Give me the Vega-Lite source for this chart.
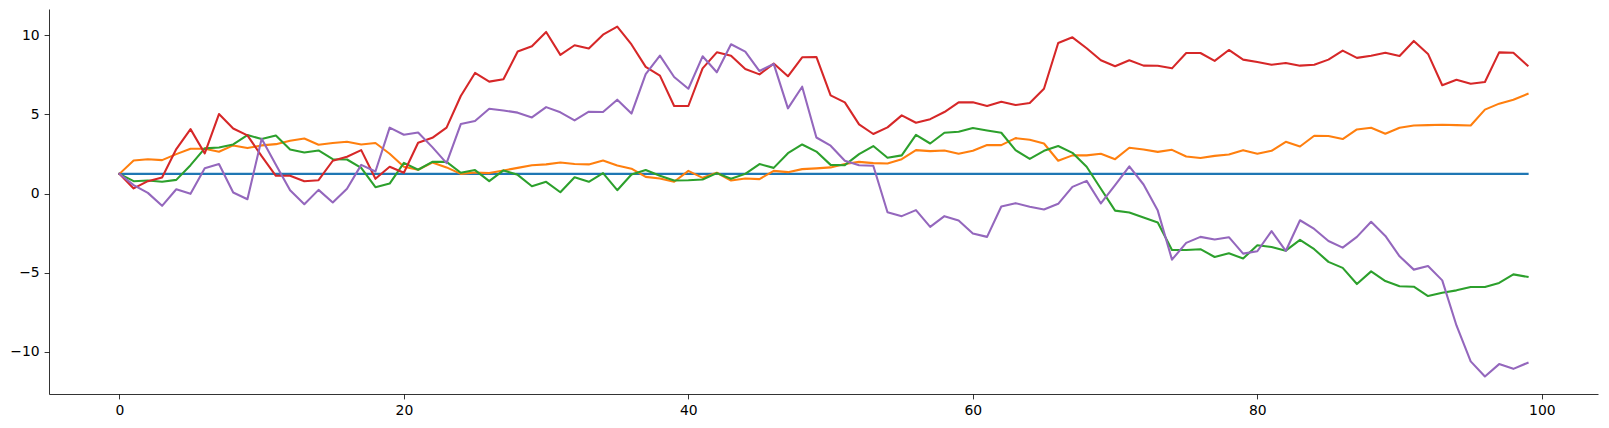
{
"$schema": "https://vega.github.io/schema/vega-lite/v6.json",
"autosize": "none",
"width": 1549,
"height": 385,
"padding": {"left": 49, "top": 9, "right": 11, "bottom": 34},
"background": "white",
"config": {"view": {"stroke": null}},
"data": {"values": [
{"x":0,"s":"C0","y":1.24},{"x":1,"s":"C0","y":1.24},{"x":2,"s":"C0","y":1.24},{"x":3,"s":"C0","y":1.24},{"x":4,"s":"C0","y":1.24},{"x":5,"s":"C0","y":1.24},{"x":6,"s":"C0","y":1.24},{"x":7,"s":"C0","y":1.24},{"x":8,"s":"C0","y":1.24},{"x":9,"s":"C0","y":1.24},
{"x":10,"s":"C0","y":1.24},{"x":11,"s":"C0","y":1.24},{"x":12,"s":"C0","y":1.24},{"x":13,"s":"C0","y":1.24},{"x":14,"s":"C0","y":1.24},{"x":15,"s":"C0","y":1.24},{"x":16,"s":"C0","y":1.24},{"x":17,"s":"C0","y":1.24},{"x":18,"s":"C0","y":1.24},{"x":19,"s":"C0","y":1.24},
{"x":20,"s":"C0","y":1.24},{"x":21,"s":"C0","y":1.24},{"x":22,"s":"C0","y":1.24},{"x":23,"s":"C0","y":1.24},{"x":24,"s":"C0","y":1.24},{"x":25,"s":"C0","y":1.24},{"x":26,"s":"C0","y":1.24},{"x":27,"s":"C0","y":1.24},{"x":28,"s":"C0","y":1.24},{"x":29,"s":"C0","y":1.24},
{"x":30,"s":"C0","y":1.24},{"x":31,"s":"C0","y":1.24},{"x":32,"s":"C0","y":1.24},{"x":33,"s":"C0","y":1.24},{"x":34,"s":"C0","y":1.24},{"x":35,"s":"C0","y":1.24},{"x":36,"s":"C0","y":1.24},{"x":37,"s":"C0","y":1.24},{"x":38,"s":"C0","y":1.24},{"x":39,"s":"C0","y":1.24},
{"x":40,"s":"C0","y":1.24},{"x":41,"s":"C0","y":1.24},{"x":42,"s":"C0","y":1.24},{"x":43,"s":"C0","y":1.24},{"x":44,"s":"C0","y":1.24},{"x":45,"s":"C0","y":1.24},{"x":46,"s":"C0","y":1.24},{"x":47,"s":"C0","y":1.24},{"x":48,"s":"C0","y":1.24},{"x":49,"s":"C0","y":1.24},
{"x":50,"s":"C0","y":1.24},{"x":51,"s":"C0","y":1.24},{"x":52,"s":"C0","y":1.24},{"x":53,"s":"C0","y":1.24},{"x":54,"s":"C0","y":1.24},{"x":55,"s":"C0","y":1.24},{"x":56,"s":"C0","y":1.24},{"x":57,"s":"C0","y":1.24},{"x":58,"s":"C0","y":1.24},{"x":59,"s":"C0","y":1.24},
{"x":60,"s":"C0","y":1.24},{"x":61,"s":"C0","y":1.24},{"x":62,"s":"C0","y":1.24},{"x":63,"s":"C0","y":1.24},{"x":64,"s":"C0","y":1.24},{"x":65,"s":"C0","y":1.24},{"x":66,"s":"C0","y":1.24},{"x":67,"s":"C0","y":1.24},{"x":68,"s":"C0","y":1.24},{"x":69,"s":"C0","y":1.24},
{"x":70,"s":"C0","y":1.24},{"x":71,"s":"C0","y":1.24},{"x":72,"s":"C0","y":1.24},{"x":73,"s":"C0","y":1.24},{"x":74,"s":"C0","y":1.24},{"x":75,"s":"C0","y":1.24},{"x":76,"s":"C0","y":1.24},{"x":77,"s":"C0","y":1.24},{"x":78,"s":"C0","y":1.24},{"x":79,"s":"C0","y":1.24},
{"x":80,"s":"C0","y":1.24},{"x":81,"s":"C0","y":1.24},{"x":82,"s":"C0","y":1.24},{"x":83,"s":"C0","y":1.24},{"x":84,"s":"C0","y":1.24},{"x":85,"s":"C0","y":1.24},{"x":86,"s":"C0","y":1.24},{"x":87,"s":"C0","y":1.24},{"x":88,"s":"C0","y":1.24},{"x":89,"s":"C0","y":1.24},
{"x":90,"s":"C0","y":1.24},{"x":91,"s":"C0","y":1.24},{"x":92,"s":"C0","y":1.24},{"x":93,"s":"C0","y":1.24},{"x":94,"s":"C0","y":1.24},{"x":95,"s":"C0","y":1.24},{"x":96,"s":"C0","y":1.24},{"x":97,"s":"C0","y":1.24},{"x":98,"s":"C0","y":1.24},{"x":99,"s":"C0","y":1.24},

{"x":0,"s":"C1","y":1.24},{"x":1,"s":"C1","y":2.09},{"x":2,"s":"C1","y":2.17},{"x":3,"s":"C1","y":2.11},{"x":4,"s":"C1","y":2.49},{"x":5,"s":"C1","y":2.83},{"x":6,"s":"C1","y":2.83},{"x":7,"s":"C1","y":2.64},{"x":8,"s":"C1","y":3.04},{"x":9,"s":"C1","y":2.87},
{"x":10,"s":"C1","y":3.04},{"x":11,"s":"C1","y":3.12},{"x":12,"s":"C1","y":3.34},{"x":13,"s":"C1","y":3.48},{"x":14,"s":"C1","y":3.08},{"x":15,"s":"C1","y":3.19},{"x":16,"s":"C1","y":3.27},{"x":17,"s":"C1","y":3.10},{"x":18,"s":"C1","y":3.19},{"x":19,"s":"C1","y":2.51},
{"x":20,"s":"C1","y":1.69},{"x":21,"s":"C1","y":1.50},{"x":22,"s":"C1","y":1.96},{"x":23,"s":"C1","y":1.65},{"x":24,"s":"C1","y":1.24},{"x":25,"s":"C1","y":1.33},{"x":26,"s":"C1","y":1.29},{"x":27,"s":"C1","y":1.46},{"x":28,"s":"C1","y":1.62},{"x":29,"s":"C1","y":1.79},
{"x":30,"s":"C1","y":1.84},{"x":31,"s":"C1","y":1.96},{"x":32,"s":"C1","y":1.86},{"x":33,"s":"C1","y":1.84},{"x":34,"s":"C1","y":2.09},{"x":35,"s":"C1","y":1.77},{"x":36,"s":"C1","y":1.57},{"x":37,"s":"C1","y":1.05},{"x":38,"s":"C1","y":0.95},{"x":39,"s":"C1","y":0.74},
{"x":40,"s":"C1","y":1.43},{"x":41,"s":"C1","y":0.99},{"x":42,"s":"C1","y":1.31},{"x":43,"s":"C1","y":0.82},{"x":44,"s":"C1","y":0.95},{"x":45,"s":"C1","y":0.91},{"x":46,"s":"C1","y":1.43},{"x":47,"s":"C1","y":1.35},{"x":48,"s":"C1","y":1.54},{"x":49,"s":"C1","y":1.59},
{"x":50,"s":"C1","y":1.65},{"x":51,"s":"C1","y":1.86},{"x":52,"s":"C1","y":2.00},{"x":53,"s":"C1","y":1.92},{"x":54,"s":"C1","y":1.90},{"x":55,"s":"C1","y":2.17},{"x":56,"s":"C1","y":2.74},{"x":57,"s":"C1","y":2.68},{"x":58,"s":"C1","y":2.72},{"x":59,"s":"C1","y":2.51},
{"x":60,"s":"C1","y":2.70},{"x":61,"s":"C1","y":3.07},{"x":62,"s":"C1","y":3.06},{"x":63,"s":"C1","y":3.50},{"x":64,"s":"C1","y":3.40},{"x":65,"s":"C1","y":3.16},{"x":66,"s":"C1","y":2.07},{"x":67,"s":"C1","y":2.41},{"x":68,"s":"C1","y":2.41},{"x":69,"s":"C1","y":2.51},
{"x":70,"s":"C1","y":2.17},{"x":71,"s":"C1","y":2.89},{"x":72,"s":"C1","y":2.78},{"x":73,"s":"C1","y":2.63},{"x":74,"s":"C1","y":2.76},{"x":75,"s":"C1","y":2.34},{"x":76,"s":"C1","y":2.24},{"x":77,"s":"C1","y":2.38},{"x":78,"s":"C1","y":2.47},{"x":79,"s":"C1","y":2.74},
{"x":80,"s":"C1","y":2.51},{"x":81,"s":"C1","y":2.70},{"x":82,"s":"C1","y":3.27},{"x":83,"s":"C1","y":2.97},{"x":84,"s":"C1","y":3.65},{"x":85,"s":"C1","y":3.63},{"x":86,"s":"C1","y":3.44},{"x":87,"s":"C1","y":4.05},{"x":88,"s":"C1","y":4.16},{"x":89,"s":"C1","y":3.78},
{"x":90,"s":"C1","y":4.16},{"x":91,"s":"C1","y":4.30},{"x":92,"s":"C1","y":4.32},{"x":93,"s":"C1","y":4.35},{"x":94,"s":"C1","y":4.32},{"x":95,"s":"C1","y":4.30},{"x":96,"s":"C1","y":5.30},{"x":97,"s":"C1","y":5.68},{"x":98,"s":"C1","y":5.93},{"x":99,"s":"C1","y":6.29},

{"x":0,"s":"C2","y":1.24},{"x":1,"s":"C2","y":0.78},{"x":2,"s":"C2","y":0.82},{"x":3,"s":"C2","y":0.74},{"x":4,"s":"C2","y":0.86},{"x":5,"s":"C2","y":1.79},{"x":6,"s":"C2","y":2.85},{"x":7,"s":"C2","y":2.91},{"x":8,"s":"C2","y":3.10},{"x":9,"s":"C2","y":3.69},
{"x":10,"s":"C2","y":3.44},{"x":11,"s":"C2","y":3.67},{"x":12,"s":"C2","y":2.78},{"x":13,"s":"C2","y":2.59},{"x":14,"s":"C2","y":2.72},{"x":15,"s":"C2","y":2.17},{"x":16,"s":"C2","y":2.15},{"x":17,"s":"C2","y":1.62},{"x":18,"s":"C2","y":0.40},{"x":19,"s":"C2","y":0.63},
{"x":20,"s":"C2","y":1.94},{"x":21,"s":"C2","y":1.50},{"x":22,"s":"C2","y":2.00},{"x":23,"s":"C2","y":2.00},{"x":24,"s":"C2","y":1.31},{"x":25,"s":"C2","y":1.48},{"x":26,"s":"C2","y":0.78},{"x":27,"s":"C2","y":1.46},{"x":28,"s":"C2","y":1.18},{"x":29,"s":"C2","y":0.46},
{"x":30,"s":"C2","y":0.74},{"x":31,"s":"C2","y":0.08},{"x":32,"s":"C2","y":1.03},{"x":33,"s":"C2","y":0.74},{"x":34,"s":"C2","y":1.29},{"x":35,"s":"C2","y":0.21},{"x":36,"s":"C2","y":1.20},{"x":37,"s":"C2","y":1.48},{"x":38,"s":"C2","y":1.12},{"x":39,"s":"C2","y":0.82},
{"x":40,"s":"C2","y":0.84},{"x":41,"s":"C2","y":0.89},{"x":42,"s":"C2","y":1.29},{"x":43,"s":"C2","y":0.93},{"x":44,"s":"C2","y":1.24},{"x":45,"s":"C2","y":1.86},{"x":46,"s":"C2","y":1.62},{"x":47,"s":"C2","y":2.55},{"x":48,"s":"C2","y":3.10},{"x":49,"s":"C2","y":2.65},
{"x":50,"s":"C2","y":1.81},{"x":51,"s":"C2","y":1.79},{"x":52,"s":"C2","y":2.49},{"x":53,"s":"C2","y":3.00},{"x":54,"s":"C2","y":2.26},{"x":55,"s":"C2","y":2.41},{"x":56,"s":"C2","y":3.71},{"x":57,"s":"C2","y":3.16},{"x":58,"s":"C2","y":3.84},{"x":59,"s":"C2","y":3.90},
{"x":60,"s":"C2","y":4.14},{"x":61,"s":"C2","y":3.98},{"x":62,"s":"C2","y":3.84},{"x":63,"s":"C2","y":2.74},{"x":64,"s":"C2","y":2.19},{"x":65,"s":"C2","y":2.70},{"x":66,"s":"C2","y":3.00},{"x":67,"s":"C2","y":2.57},{"x":68,"s":"C2","y":1.69},{"x":69,"s":"C2","y":0.30},
{"x":70,"s":"C2","y":-1.08},{"x":71,"s":"C2","y":-1.20},{"x":72,"s":"C2","y":-1.52},{"x":73,"s":"C2","y":-1.83},{"x":74,"s":"C2","y":-3.57},{"x":75,"s":"C2","y":-3.57},{"x":76,"s":"C2","y":-3.52},{"x":77,"s":"C2","y":-4.01},{"x":78,"s":"C2","y":-3.78},{"x":79,"s":"C2","y":-4.11},
{"x":80,"s":"C2","y":-3.27},{"x":81,"s":"C2","y":-3.38},{"x":82,"s":"C2","y":-3.61},{"x":83,"s":"C2","y":-2.93},{"x":84,"s":"C2","y":-3.52},{"x":85,"s":"C2","y":-4.32},{"x":86,"s":"C2","y":-4.70},{"x":87,"s":"C2","y":-5.72},{"x":88,"s":"C2","y":-4.92},{"x":89,"s":"C2","y":-5.53},
{"x":90,"s":"C2","y":-5.86},{"x":91,"s":"C2","y":-5.89},{"x":92,"s":"C2","y":-6.48},{"x":93,"s":"C2","y":-6.27},{"x":94,"s":"C2","y":-6.12},{"x":95,"s":"C2","y":-5.91},{"x":96,"s":"C2","y":-5.91},{"x":97,"s":"C2","y":-5.65},{"x":98,"s":"C2","y":-5.11},{"x":99,"s":"C2","y":-5.27},

{"x":0,"s":"C3","y":1.24},{"x":1,"s":"C3","y":0.32},{"x":2,"s":"C3","y":0.78},{"x":3,"s":"C3","y":1.01},{"x":4,"s":"C3","y":2.81},{"x":5,"s":"C3","y":4.07},{"x":6,"s":"C3","y":2.53},{"x":7,"s":"C3","y":5.02},{"x":8,"s":"C3","y":4.11},{"x":9,"s":"C3","y":3.67},
{"x":10,"s":"C3","y":2.36},{"x":11,"s":"C3","y":1.12},{"x":12,"s":"C3","y":1.12},{"x":13,"s":"C3","y":0.78},{"x":14,"s":"C3","y":0.84},{"x":15,"s":"C3","y":2.07},{"x":16,"s":"C3","y":2.32},{"x":17,"s":"C3","y":2.74},{"x":18,"s":"C3","y":0.93},{"x":19,"s":"C3","y":1.69},
{"x":20,"s":"C3","y":1.31},{"x":21,"s":"C3","y":3.21},{"x":22,"s":"C3","y":3.52},{"x":23,"s":"C3","y":4.16},{"x":24,"s":"C3","y":6.16},{"x":25,"s":"C3","y":7.62},{"x":26,"s":"C3","y":7.07},{"x":27,"s":"C3","y":7.22},{"x":28,"s":"C3","y":8.97},{"x":29,"s":"C3","y":9.30},
{"x":30,"s":"C3","y":10.21},{"x":31,"s":"C3","y":8.76},{"x":32,"s":"C3","y":9.37},{"x":33,"s":"C3","y":9.16},{"x":34,"s":"C3","y":10.04},{"x":35,"s":"C3","y":10.55},{"x":36,"s":"C3","y":9.42},{"x":37,"s":"C3","y":8.00},{"x":38,"s":"C3","y":7.45},{"x":39,"s":"C3","y":5.53},
{"x":40,"s":"C3","y":5.53},{"x":41,"s":"C3","y":7.91},{"x":42,"s":"C3","y":8.92},{"x":43,"s":"C3","y":8.71},{"x":44,"s":"C3","y":7.87},{"x":45,"s":"C3","y":7.53},{"x":46,"s":"C3","y":8.21},{"x":47,"s":"C3","y":7.41},{"x":48,"s":"C3","y":8.61},{"x":49,"s":"C3","y":8.63},
{"x":50,"s":"C3","y":6.20},{"x":51,"s":"C3","y":5.76},{"x":52,"s":"C3","y":4.37},{"x":53,"s":"C3","y":3.76},{"x":54,"s":"C3","y":4.18},{"x":55,"s":"C3","y":4.94},{"x":56,"s":"C3","y":4.47},{"x":57,"s":"C3","y":4.70},{"x":58,"s":"C3","y":5.15},{"x":59,"s":"C3","y":5.76},
{"x":60,"s":"C3","y":5.76},{"x":61,"s":"C3","y":5.53},{"x":62,"s":"C3","y":5.80},{"x":63,"s":"C3","y":5.59},{"x":64,"s":"C3","y":5.72},{"x":65,"s":"C3","y":6.62},{"x":66,"s":"C3","y":9.51},{"x":67,"s":"C3","y":9.87},{"x":68,"s":"C3","y":9.18},{"x":69,"s":"C3","y":8.42},
{"x":70,"s":"C3","y":8.04},{"x":71,"s":"C3","y":8.42},{"x":72,"s":"C3","y":8.08},{"x":73,"s":"C3","y":8.07},{"x":74,"s":"C3","y":7.91},{"x":75,"s":"C3","y":8.88},{"x":76,"s":"C3","y":8.88},{"x":77,"s":"C3","y":8.38},{"x":78,"s":"C3","y":9.07},{"x":79,"s":"C3","y":8.46},
{"x":80,"s":"C3","y":8.31},{"x":81,"s":"C3","y":8.14},{"x":82,"s":"C3","y":8.25},{"x":83,"s":"C3","y":8.08},{"x":84,"s":"C3","y":8.14},{"x":85,"s":"C3","y":8.46},{"x":86,"s":"C3","y":9.03},{"x":87,"s":"C3","y":8.57},{"x":88,"s":"C3","y":8.71},{"x":89,"s":"C3","y":8.90},
{"x":90,"s":"C3","y":8.69},{"x":91,"s":"C3","y":9.64},{"x":92,"s":"C3","y":8.82},{"x":93,"s":"C3","y":6.84},{"x":94,"s":"C3","y":7.19},{"x":95,"s":"C3","y":6.94},{"x":96,"s":"C3","y":7.05},{"x":97,"s":"C3","y":8.92},{"x":98,"s":"C3","y":8.90},{"x":99,"s":"C3","y":8.08},

{"x":0,"s":"C4","y":1.24},{"x":1,"s":"C4","y":0.53},{"x":2,"s":"C4","y":0.04},{"x":3,"s":"C4","y":-0.78},{"x":4,"s":"C4","y":0.27},{"x":5,"s":"C4","y":-0.02},{"x":6,"s":"C4","y":1.60},{"x":7,"s":"C4","y":1.86},{"x":8,"s":"C4","y":0.06},{"x":9,"s":"C4","y":-0.36},
{"x":10,"s":"C4","y":3.46},{"x":11,"s":"C4","y":1.81},{"x":12,"s":"C4","y":0.21},{"x":13,"s":"C4","y":-0.68},{"x":14,"s":"C4","y":0.23},{"x":15,"s":"C4","y":-0.57},{"x":16,"s":"C4","y":0.30},{"x":17,"s":"C4","y":1.81},{"x":18,"s":"C4","y":1.39},{"x":19,"s":"C4","y":4.16},
{"x":20,"s":"C4","y":3.71},{"x":21,"s":"C4","y":3.86},{"x":22,"s":"C4","y":2.93},{"x":23,"s":"C4","y":1.92},{"x":24,"s":"C4","y":4.39},{"x":25,"s":"C4","y":4.58},{"x":26,"s":"C4","y":5.36},{"x":27,"s":"C4","y":5.25},{"x":28,"s":"C4","y":5.11},{"x":29,"s":"C4","y":4.81},
{"x":30,"s":"C4","y":5.46},{"x":31,"s":"C4","y":5.13},{"x":32,"s":"C4","y":4.62},{"x":33,"s":"C4","y":5.17},{"x":34,"s":"C4","y":5.15},{"x":35,"s":"C4","y":5.93},{"x":36,"s":"C4","y":5.05},{"x":37,"s":"C4","y":7.55},{"x":38,"s":"C4","y":8.71},{"x":39,"s":"C4","y":7.36},
{"x":40,"s":"C4","y":6.62},{"x":41,"s":"C4","y":8.67},{"x":42,"s":"C4","y":7.66},{"x":43,"s":"C4","y":9.43},{"x":44,"s":"C4","y":8.97},{"x":45,"s":"C4","y":7.74},{"x":46,"s":"C4","y":8.19},{"x":47,"s":"C4","y":5.38},{"x":48,"s":"C4","y":6.75},{"x":49,"s":"C4","y":3.54},
{"x":50,"s":"C4","y":3.02},{"x":51,"s":"C4","y":2.07},{"x":52,"s":"C4","y":1.79},{"x":53,"s":"C4","y":1.75},{"x":54,"s":"C4","y":-1.18},{"x":55,"s":"C4","y":-1.43},{"x":56,"s":"C4","y":-1.05},{"x":57,"s":"C4","y":-2.11},{"x":58,"s":"C4","y":-1.43},{"x":59,"s":"C4","y":-1.71},
{"x":60,"s":"C4","y":-2.53},{"x":61,"s":"C4","y":-2.74},{"x":62,"s":"C4","y":-0.82},{"x":63,"s":"C4","y":-0.61},{"x":64,"s":"C4","y":-0.84},{"x":65,"s":"C4","y":-1.01},{"x":66,"s":"C4","y":-0.65},{"x":67,"s":"C4","y":0.42},{"x":68,"s":"C4","y":0.80},{"x":69,"s":"C4","y":-0.63},
{"x":70,"s":"C4","y":0.53},{"x":71,"s":"C4","y":1.71},{"x":72,"s":"C4","y":0.57},{"x":73,"s":"C4","y":-1.08},{"x":74,"s":"C4","y":-4.18},{"x":75,"s":"C4","y":-3.12},{"x":76,"s":"C4","y":-2.74},{"x":77,"s":"C4","y":-2.91},{"x":78,"s":"C4","y":-2.76},{"x":79,"s":"C4","y":-3.80},
{"x":80,"s":"C4","y":-3.65},{"x":81,"s":"C4","y":-2.38},{"x":82,"s":"C4","y":-3.63},{"x":83,"s":"C4","y":-1.69},{"x":84,"s":"C4","y":-2.24},{"x":85,"s":"C4","y":-3.00},{"x":86,"s":"C4","y":-3.42},{"x":87,"s":"C4","y":-2.74},{"x":88,"s":"C4","y":-1.79},{"x":89,"s":"C4","y":-2.68},
{"x":90,"s":"C4","y":-3.97},{"x":91,"s":"C4","y":-4.81},{"x":92,"s":"C4","y":-4.58},{"x":93,"s":"C4","y":-5.49},{"x":94,"s":"C4","y":-8.34},{"x":95,"s":"C4","y":-10.61},{"x":96,"s":"C4","y":-11.56},{"x":97,"s":"C4","y":-10.78},{"x":98,"s":"C4","y":-11.08},{"x":99,"s":"C4","y":-10.70}
]},
"mark": {"type": "line", "strokeWidth": 2.08, "strokeJoin": "round", "strokeCap": "square"},
"encoding": {
"x": {"field": "x", "type": "quantitative",
"scale": {"domain": [-4.95, 103.95], "nice": false, "zero": false},
"axis": {"title": null, "values": [0, 20, 40, 60, 80, 100], "grid": false, "tickSize": 4.9, "tickWidth": 0.8, "tickColor": "black", "domainColor": "black", "domainWidth": 0.8, "labelFont": "DejaVu Sans", "labelFontSize": 13.9, "labelColor": "black", "labelPadding": 4.9, "labelFlush": false}},
"y": {"field": "y", "type": "quantitative",
"scale": {"domain": [-12.67, 11.66], "nice": false, "zero": false},
"axis": {"title": null, "values": [-10, -5, 0, 5, 10], "grid": false, "tickSize": 4.9, "tickWidth": 0.8, "tickColor": "black", "domainColor": "black", "domainWidth": 0.8, "labelFont": "DejaVu Sans", "labelFontSize": 13.9, "labelColor": "black", "labelPadding": 4.9, "labelFlush": false}},
"color": {"field": "s", "type": "nominal", "legend": null,
"scale": {"domain": ["C0", "C1", "C2", "C3", "C4"], "range": ["#1f77b4", "#ff7f0e", "#2ca02c", "#d62728", "#9467bd"]}}
}
}
